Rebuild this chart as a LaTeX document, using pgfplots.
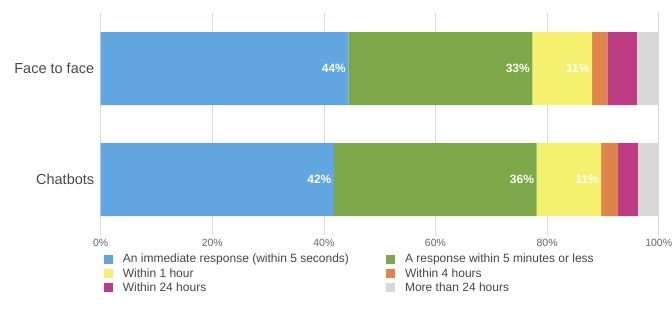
\documentclass[border=0pt]{standalone}
\usepackage{pgfplots}
\pgfplotsset{compat=1.18}
\usepackage{fontspec}
\setmainfont{Liberation Sans}
\definecolor{cBlue}{RGB}{98,167,225}
\definecolor{cGreen}{RGB}{124,168,74}
\definecolor{cYellow}{RGB}{245,240,110}
\definecolor{cOrange}{RGB}{222,132,76}
\definecolor{cMagenta}{RGB}{189,60,132}
\definecolor{cGray}{RGB}{216,216,216}
\definecolor{txt}{RGB}{70,70,70}
\definecolor{ticktxt}{RGB}{100,100,100}
\begin{document}
\begin{tikzpicture}
\path[use as bounding box] (0,0) rectangle (672pt,322pt);
\begin{axis}[
  at={(100.7pt,87pt)}, anchor=south west,
  scale only axis, width=558pt, height=222pt,
  xbar stacked, bar width=73pt,
  xmin=0, xmax=100, ymin=-0.5, ymax=1.5,
  ytick={0,1}, yticklabels={Chatbots, Face to face},
  xtick={0,20,40,60,80,100},
  xticklabel={\pgfmathprintnumber{\tick}\%},
  /pgf/number format/assume math mode=true,
  xmajorgrids, grid style={draw=gray!30, line width=0.8pt},
  axis line style={draw=none}, tick style={draw=none},
  xticklabel style={font=\fontsize{10.5}{12}\selectfont, text=ticktxt, yshift=-1pt},
  yticklabel style={font=\fontsize{14.5}{16}\selectfont, text=txt, xshift=-3pt},
  legend columns=2,
  legend cell align=left,
  legend style={at={(rel axis cs:0,0)}, anchor=north west, xshift=0pt, yshift=-15pt,
    draw=none, fill=none, font=\fontsize{12}{14}\selectfont, text=txt,
    row sep=0pt,
    /tikz/every odd column/.append style={column sep=8pt},
    /tikz/every even column/.append style={column sep=35pt}},
  legend image code/.code={\path[#1] (0pt,-4.5pt) rectangle (9pt,4.5pt);},
  point meta=explicit symbolic,
  visualization depends on={rawx \as \rawx},
  nodes near coords align={anchor=east},
  every node near coord/.append style={font=\fontsize{12}{13}\selectfont\bfseries, text=white, xshift={\rawx*2.79pt+1pt}},
]
\addplot+[fill=cBlue, draw=none, nodes near coords] coordinates {(41.8,0) [42\%] (44.4,1) [44\%]};
\addplot+[fill=cGreen, draw=none, nodes near coords] coordinates {(36.3,0) [36\%] (32.95,1) [33\%]};
\addplot+[fill=cYellow, draw=none, nodes near coords] coordinates {(11.6,0) [11\%] (10.7,1) [11\%]};
\addplot+[fill=cOrange, draw=none] coordinates {(3.05,0) [] (2.75,1) []};
\addplot+[fill=cMagenta, draw=none] coordinates {(3.5,0) [] (5.3,1) []};
\addplot+[fill=cGray, draw=none] coordinates {(3.75,0) [] (3.9,1) []};
\legend{An immediate response (within 5 seconds), A response within 5 minutes or less, Within 1 hour, Within 4 hours, Within 24 hours, More than 24 hours}
\end{axis}
\end{tikzpicture}
\end{document}
